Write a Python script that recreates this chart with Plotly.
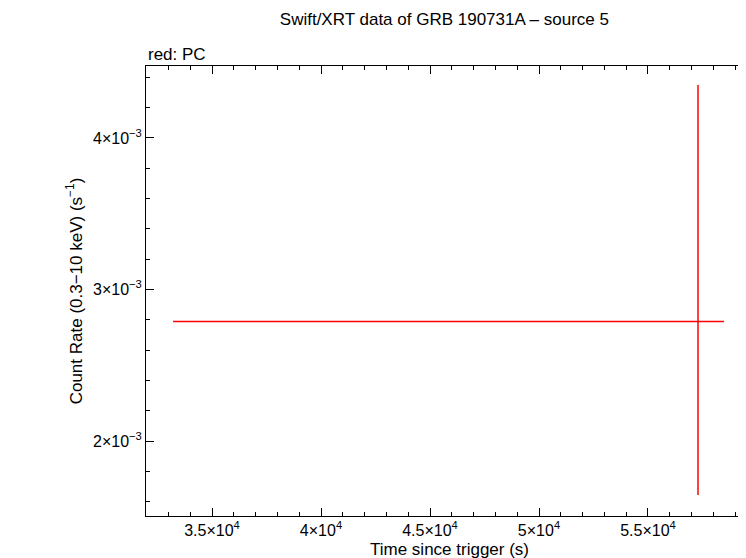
import plotly.graph_objects as go

t = [57294]
t_err_minus = [24083]
t_err_plus = [1192]
rate = [2.789e-3]
rate_err_plus = [1.561e-3]
rate_err_minus = [1.145e-3]

xtickvals = [35000, 40000, 45000, 50000, 55000]
xticktext = ["3.5×10<sup>4</sup>", "4×10<sup>4</sup>", "4.5×10<sup>4</sup>", "5×10<sup>4</sup>", "5.5×10<sup>4</sup>"]
ytickvals = [2e-3, 3e-3, 4e-3]
yticktext = ["2×10<sup>−3</sup>", "3×10<sup>−3</sup>", "4×10<sup>−3</sup>"]

fig = go.Figure(go.Scatter(
    x=t, y=rate, mode="markers", marker=dict(size=1, color="red"),
    error_x=dict(type="data", symmetric=False, array=t_err_plus, arrayminus=t_err_minus, color="red", width=0, thickness=1.5),
    error_y=dict(type="data", symmetric=False, array=rate_err_plus, arrayminus=rate_err_minus, color="red", width=0, thickness=1.5),
))
axis_common = dict(showgrid=False, zeroline=False, showline=True, linecolor="black", linewidth=1,
                   mirror="allticks", ticks="inside", ticklen=8, tickcolor="black", automargin=False,
                   tickfont=dict(size=16))
fig.update_xaxes(range=[31972, 59817], tickvals=xtickvals, ticktext=xticktext,
                 minor=dict(dtick=1000, tick0=0, ticks="inside", ticklen=4, tickcolor="black"),
                 title=dict(text="Time since trigger (s)", standoff=4, font=dict(size=17)), **axis_common)
fig.update_yaxes(range=[1.505e-3, 4.475e-3], tickvals=ytickvals, ticktext=yticktext,
                 minor=dict(dtick=2e-4, tick0=0, ticks="inside", ticklen=4, tickcolor="black"),
                 title=dict(text="Count Rate (0.3−10 keV) (s<sup>−1</sup>)", standoff=6, font=dict(size=17)), **axis_common)
fig.update_layout(
    width=746, height=558, plot_bgcolor="white", paper_bgcolor="white",
    font=dict(family="Liberation Sans, Arial, sans-serif", size=15, color="black"),
    margin=dict(l=138, r=1, t=58, b=50, autoexpand=False), showlegend=False,
    title=dict(text="Swift/XRT data of GRB 190731A – source 5", x=0.585, xanchor="center", y=0.99, yanchor="top", font=dict(size=17)),
    annotations=[dict(text="red: PC", xref="paper", yref="paper", x=0, y=1.0, xanchor="left", yanchor="bottom", showarrow=False, font=dict(size=17))],
)
fig.write_html("out.html")
